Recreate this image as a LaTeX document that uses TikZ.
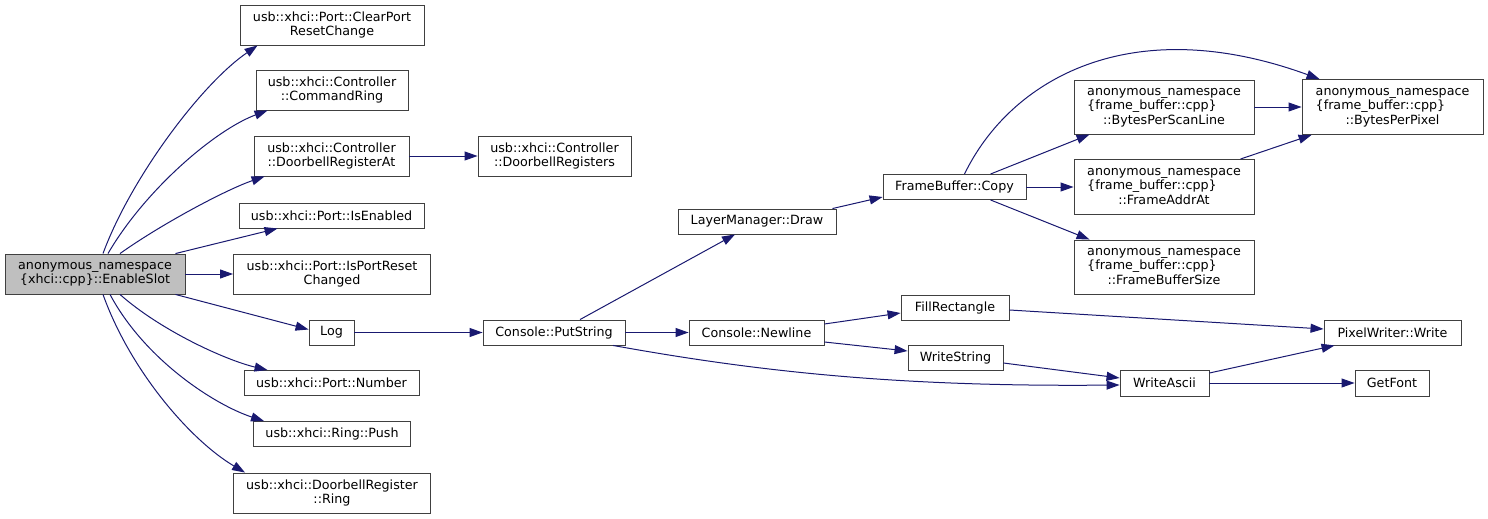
\documentclass[tikz,border=0pt]{standalone}
\usepackage{fontspec}
\setmainfont{DejaVu Sans}
\usetikzlibrary{arrows.meta}
\definecolor{edgec}{HTML}{191970}
\definecolor{boxc}{HTML}{404040}
\definecolor{curc}{HTML}{BFBFBF}
\newcommand\threelines[3]{\begin{tabular}{@{}l@{}}#1\\#2\\\multicolumn{1}{@{}c@{}}{#3}\end{tabular}}
\tikzset{
  fn/.style={draw=boxc, line width=0.9pt, fill=white, inner sep=0pt, align=center,
    font=\fontsize{12.7}{14.3}\selectfont},
  cur/.style={fn, fill=curc},
  call/.style={draw=edgec, line width=1pt, -{Triangle[length=13pt,width=9pt]}, color=edgec},
}
\begin{document}
\begin{tikzpicture}[x=1pt,y=-1pt]
\useasboundingbox (0,0) rectangle (1488,519);
% nodes
\node[cur, minimum width=180, minimum height=40] (es) at (95,274) {anonymous\_namespace\\\{xhci::cpp\}::EnableSlot};
\node[fn, minimum width=184, minimum height=40] (cpr) at (332,25) {usb::xhci::Port::ClearPort\\ResetChange};
\node[fn, minimum width=152, minimum height=40] (cr) at (332,90) {usb::xhci::Controller\\::CommandRing};
\node[fn, minimum width=155, minimum height=40] (dra) at (331.5,156) {usb::xhci::Controller\\::DoorbellRegisterAt};
\node[fn, minimum width=153, minimum height=40] (drs) at (554.5,156) {usb::xhci::Controller\\::DoorbellRegisters};
\node[fn, minimum width=185, minimum height=25] (ie) at (331.5,215.5) {usb::xhci::Port::IsEnabled};
\node[fn, minimum width=197, minimum height=40] (iprc) at (332,274) {usb::xhci::Port::IsPortReset\\Changed};
\node[fn, minimum width=45, minimum height=25] (log) at (331.5,332.5) {Log};
\node[fn, minimum width=175, minimum height=25] (num) at (331.5,383) {usb::xhci::Port::Number};
\node[fn, minimum width=157, minimum height=25] (push) at (332,434) {usb::xhci::Ring::Push};
\node[fn, minimum width=197, minimum height=40] (ring) at (332,493) {usb::xhci::DoorbellRegister\\::Ring};
\node[fn, minimum width=142, minimum height=25] (ps) at (554,332.5) {Console::PutString};
\node[fn, minimum width=158, minimum height=25] (lmd) at (757,221.5) {LayerManager::Draw};
\node[fn, minimum width=135, minimum height=25] (nl) at (756.5,332.5) {Console::Newline};
\node[fn, minimum width=143, minimum height=25] (fbc) at (954.5,187) {FrameBuffer::Copy};
\node[fn, minimum width=180, minimum height=54] (bpsl) at (1164,107) {\threelines{anonymous\_namespace}{\{frame\_buffer::cpp\}}{::BytesPerScanLine}};
\node[fn, minimum width=180, minimum height=55] (faa) at (1164,187) {\threelines{anonymous\_namespace}{\{frame\_buffer::cpp\}}{::FrameAddrAt}};
\node[fn, minimum width=180, minimum height=54] (fbs) at (1164,267) {\threelines{anonymous\_namespace}{\{frame\_buffer::cpp\}}{::FrameBufferSize}};
\node[fn, minimum width=181, minimum height=55] (bpp) at (1392.5,107) {\threelines{anonymous\_namespace}{\{frame\_buffer::cpp\}}{::BytesPerPixel}};
\node[fn, minimum width=108, minimum height=25] (fr) at (955,307.5) {FillRectangle};
\node[fn, minimum width=95, minimum height=25] (ws) at (955.5,357.5) {WriteString};
\node[fn, minimum width=89, minimum height=26] (wa) at (1164.5,383) {WriteAscii};
\node[fn, minimum width=137, minimum height=25] (pw) at (1392.5,332.5) {PixelWriter::Write};
\node[fn, minimum width=74, minimum height=26] (gf) at (1392,383) {GetFont};
% edges from EnableSlot
\draw[call] ([xshift=8]es.north) .. controls (130,180) and (200,85) .. ([xshift=18]cpr.south west);
\draw[call] ([xshift=13]es.north) .. controls (145,190) and (215,130) .. ([xshift=12]cr.south west);
\draw[call] ([xshift=25]es.north) .. controls (160,225) and (225,190) .. ([xshift=11]dra.south west);
\draw[call] ([xshift=-10]es.north east) -- ([xshift=39]ie.south west);
\draw[call] (es.east) -- (iprc.west);
\draw[call] ([xshift=-10]es.south east) -- ([yshift=3]log.west);
\draw[call] ([xshift=25]es.south) .. controls (160,330) and (225,360) .. ([xshift=24]num.north west);
\draw[call] ([xshift=15]es.south) .. controls (145,360) and (215,405) .. ([xshift=11]push.north west);
\draw[call] ([xshift=8]es.south) .. controls (130,370) and (190,440) .. ([xshift=12]ring.north west);
% other edges
\draw[call] (dra.east) -- (drs.west);
\draw[call] (log.east) -- (ps.west);
\draw[call] ([xshift=26]ps.north) -- ([xshift=-22]lmd.south);
\draw[call] (ps.east) -- (nl.west);
\draw[call] ([xshift=59]ps.south) .. controls (760,372) and (900,387) .. ([yshift=-2]wa.west);
\draw[call] ([xshift=-4]lmd.north east) -- ([yshift=-10]fbc.west);
\draw[call] ([xshift=36]fbc.north) -- ([xshift=16]bpsl.south west);
\draw[call] (fbc.east) -- (faa.west);
\draw[call] ([xshift=36]fbc.south) -- ([xshift=16]fbs.north west);
\draw[call] ([xshift=10]fbc.north) .. controls (1010,80) and (1130,10) .. ([xshift=18]bpp.north west);
\draw[call] (bpsl.east) -- (bpp.west);
\draw[call] ([xshift=-14]faa.north east) -- ([xshift=10]bpp.south west);
\draw[call] ([yshift=8.5]nl.east) -- ([yshift=-5.5]fr.west);
\draw[call] ([yshift=-9.5]nl.east) -- ([yshift=6.5]ws.west);
\draw[call] ([yshift=-2.5]fr.east) -- ([yshift=3.5]pw.west);
\draw[call] ([yshift=-5.5]ws.east) -- ([yshift=5]wa.west);
\draw[call] ([yshift=10]wa.east) -- ([xshift=11]pw.south west);
\draw[call] (wa.east) -- (gf.west);
\end{tikzpicture}
\end{document}
